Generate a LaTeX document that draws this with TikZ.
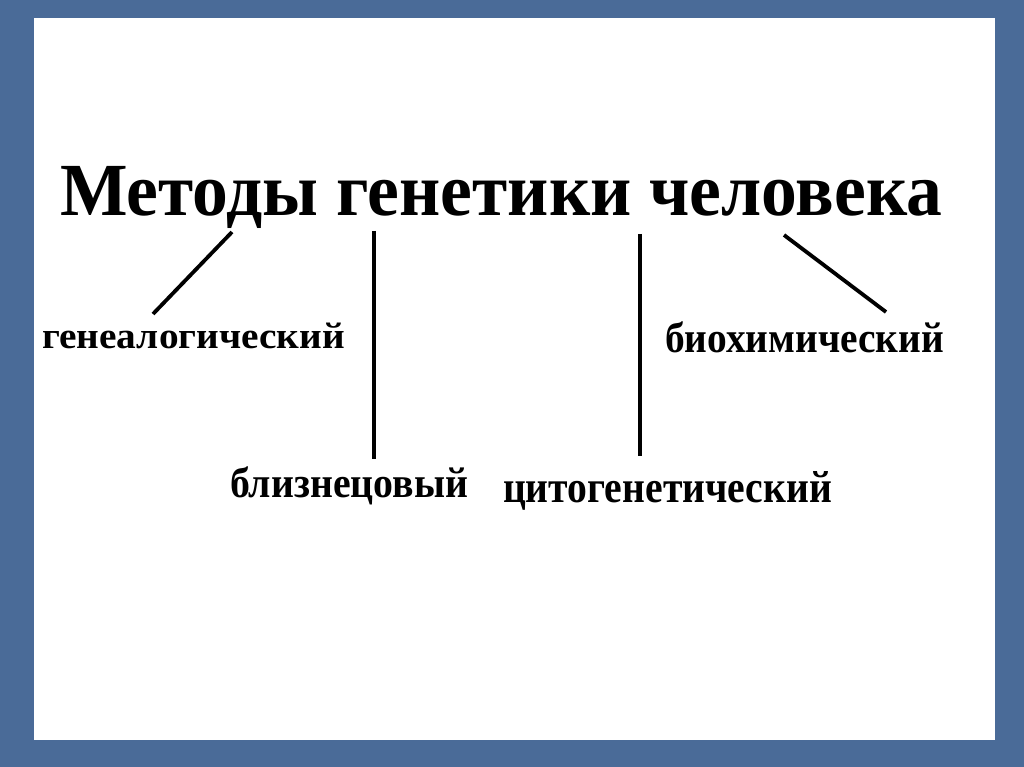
\documentclass[tikz,border=0pt]{standalone}
\usepackage{fontspec}
\setmainfont{Liberation Serif}
\usepackage{graphicx}
\definecolor{frame}{RGB}{74,107,152}
\newlength\lblw
\newcommand\fitx[2]{\settowidth\lblw{#2}\pgfmathsetmacro\fxs{#1/\lblw}\scalebox{\fxs}[1]{#2}}
\tikzset{
  lbl/.style={anchor=base west, inner sep=0pt, outer sep=0pt, font=\bfseries},
  conn/.style={line width=3.8pt, black}
}
\begin{document}
\begin{tikzpicture}[x=1pt,y=-1pt]
\useasboundingbox (0,0) rectangle (1024,767);
\fill[frame] (0,0) rectangle (1024,767);
\fill[white] (34,18) rectangle (995,740);
\node[lbl, font=\bfseries\fontsize{75}{80}\selectfont] (title) at (60,215) {\fitx{882pt}{Методы генетики человека}};
\node[lbl, font=\bfseries\fontsize{37}{40}\selectfont] (gen) at (42,348) {\fitx{303pt}{генеалогический}};
\node[lbl, font=\bfseries\fontsize{43}{46}\selectfont] (bio) at (665,352) {\fitx{279pt}{биохимический}};
\node[lbl, font=\bfseries\fontsize{43}{46}\selectfont] (twin) at (230,497) {\fitx{238pt}{близнецовый}};
\node[lbl, font=\bfseries\fontsize{45}{48}\selectfont] (cyto) at (503,502) {\fitx{329pt}{цитогенетический}};
\coordinate (a1) at (232,232);
\coordinate (a2) at (153,314);
\coordinate (b1) at (374,231);
\coordinate (b2) at (374,459);
\coordinate (c1) at (640,234);
\coordinate (c2) at (640,456);
\coordinate (d1) at (784,235);
\coordinate (d2) at (886,312);
\draw[conn] (a1) -- (a2);
\draw[conn] (b1) -- (b2);
\draw[conn] (c1) -- (c2);
\draw[conn] (d1) -- (d2);
\end{tikzpicture}
\end{document}
